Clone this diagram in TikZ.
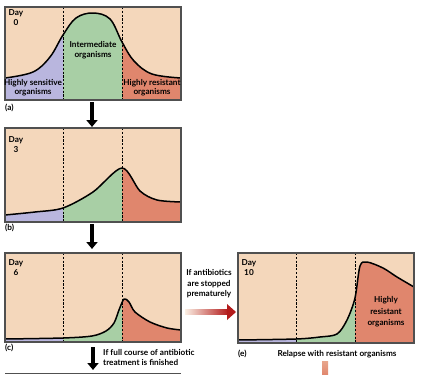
\documentclass[tikz,border=0pt]{standalone}
\usepackage{fontspec}
\setmainfont{Lato}
\usepackage{tikz}
\usetikzlibrary{arrows.meta}
\definecolor{peach}{HTML}{F4D7BB}
\definecolor{lavender}{HTML}{B9B6DE}
\definecolor{mint}{HTML}{A8CFA5}
\definecolor{salmon}{HTML}{E0866D}
\definecolor{frame}{HTML}{505050}
\definecolor{arrowred}{HTML}{B31B1B}

\begin{document}
\begin{tikzpicture}[x=1pt,y=-1pt,
  panel/.style={draw=frame,line width=1.1pt},
  curve/.style={black,line width=1.5pt,line join=round},
  divider/.style={black,line width=0.6pt,dash pattern=on 2.2pt off 1.6pt},
  txt/.style={font=\bfseries\fontsize{8.2}{10.5}\selectfont,align=center,inner sep=0pt},
  downarrow/.style={black,line width=3.6pt,-{Triangle[length=7pt,width=11pt]}}]
\useasboundingbox (0,0) rectangle (424,375);

% panel (a): day 0
\fill[lavender] (5,7) rectangle (63,100);
\fill[mint] (63,7) rectangle (122,100);
\fill[salmon] (122,7) rectangle (181,100);
\fill[peach] (5,7) -- plot[smooth,tension=0.6] coordinates {(5,78) (33,72) (50,57) (63,35) (76,18) (93,13) (110,19) (122,42) (134,61) (152,74) (181,78)} -- (181,7) -- cycle;
\draw[curve] plot[smooth,tension=0.6] coordinates {(5,78) (33,72) (50,57) (63,35) (76,18) (93,13) (110,19) (122,42) (134,61) (152,74) (181,78)};
\draw[divider] (63,7) -- (63,100);
\draw[divider] (122,7) -- (122,100);
\draw[panel] (5,7) rectangle (181,100);
\node[txt,anchor=north] (day0) at (16,9) {Day\\0};
\node[txt] (inter) at (93,50) {Intermediate\\organisms};
\node[txt,font=\bfseries\fontsize{8.2}{9.2}\selectfont] (sens) at (33,88) {Highly sensitive\\organisms};
\node[txt,font=\bfseries\fontsize{8.2}{9.2}\selectfont] (resa) at (152,88) {Highly resistant\\organisms};
\node[txt,anchor=west] (la) at (5,108) {(a)};

% panel (b): day 3
\fill[lavender] (5,128) rectangle (63,222);
\fill[mint] (63,128) rectangle (122,222);
\fill[salmon] (122,128) rectangle (181,222);
\fill[peach] (5,128) -- plot[smooth,tension=0.5] coordinates {(5,215) (35,212) (63,208) (93,192) (122,168) (140,191) (157,200) (181,202)} -- (181,128) -- cycle;
\draw[curve] plot[smooth,tension=0.5] coordinates {(5,215) (35,212) (63,208) (93,192) (122,168) (140,191) (157,200) (181,202)};
\draw[divider] (63,128) -- (63,222);
\draw[divider] (122,128) -- (122,222);
\draw[panel] (5,128) rectangle (181,222);
\node[txt,anchor=north] (day3) at (16,136) {Day\\3};
\node[txt,anchor=west] (lb) at (5,228) {(b)};

% panel (c): day 6
\fill[lavender] (5,253) rectangle (63,342);
\fill[mint] (63,253) rectangle (122,342);
\fill[salmon] (122,253) rectangle (181,342);
\fill[peach] (5,253) -- plot[smooth,tension=0.5] coordinates {(5,339) (63,338) (92,336) (106,331) (114,323) (119,310) (124,299) (129,302) (135,312) (150,322) (167,328) (181,330)} -- (181,253) -- cycle;
\draw[curve] plot[smooth,tension=0.5] coordinates {(5,339) (63,338) (92,336) (106,331) (114,323) (119,310) (124,299) (129,302) (135,312) (150,322) (167,328) (181,330)};
\draw[divider] (63,253) -- (63,342);
\draw[divider] (122,253) -- (122,342);
\draw[panel] (5,253) rectangle (181,342);
\node[txt,anchor=north] (day6) at (16,259) {Day\\6};
\node[txt,anchor=west] (lc) at (5,348) {(c)};

% panel (e): day 10
\fill[lavender] (238,253) rectangle (296,343);
\fill[mint] (296,253) rectangle (355,343);
\fill[salmon] (355,253) rectangle (414,343);
\fill[peach] (238,253) -- plot[smooth,tension=0.5] coordinates {(238,340) (296,339) (320,337) (337,334) (347,320) (355,298) (360,266) (367,262) (383,268) (397,277) (414,287)} -- (414,253) -- cycle;
\draw[curve] plot[smooth,tension=0.5] coordinates {(238,340) (296,339) (320,337) (337,334) (347,320) (355,298) (360,266) (367,262) (383,268) (397,277) (414,287)};
\draw[divider] (296,253) -- (296,343);
\draw[divider] (355,253) -- (355,343);
\draw[panel] (238,253) rectangle (414,343);
\node[txt,anchor=north] (day10) at (249,259) {Day\\10};
\node[txt,font=\bfseries\fontsize{8.2}{11.5}\selectfont] (rese) at (386,312) {Highly\\resistant\\organisms};
\node[txt,anchor=west] (le) at (238,354) {(e)};
\node[txt] (relapse) at (337,354) {Relapse with resistant organisms};

% panel (d): top edge only
\draw[panel] (5,373.5) -- (181,373.5);

% arrows between panels
\coordinate (a-out) at (92,102);
\coordinate (b-in) at (92,127);
\coordinate (b-out) at (92,224);
\coordinate (c-in) at (92,249);
\coordinate (c-out) at (93,347);
\coordinate (d-in) at (93,370);
\draw[downarrow] (a-out) -- (b-in);
\draw[downarrow] (b-out) -- (c-in);
\draw[downarrow] (c-out) -- (d-in);
\node[txt,align=left,anchor=north west] (full) at (103,349) {If full course of antibiotic\\treatment is finished};

\node[txt] (stop) at (209,284) {If antibiotics\\are stopped\\prematurely};
\coordinate (c-right) at (185,312);
\coordinate (e-left) at (236,312);
\shade[left color=peach!40!white,right color=arrowred] (c-right) ++(0,-2.6) rectangle (228,314.6);
\fill[arrowred] (227,304) -- (e-left) -- (227,320) -- cycle;

% relapse arrow, cut off
\shade[top color=salmon!60!peach,bottom color=salmon] (322,361) rectangle (328,375);
\end{tikzpicture}
\end{document}
